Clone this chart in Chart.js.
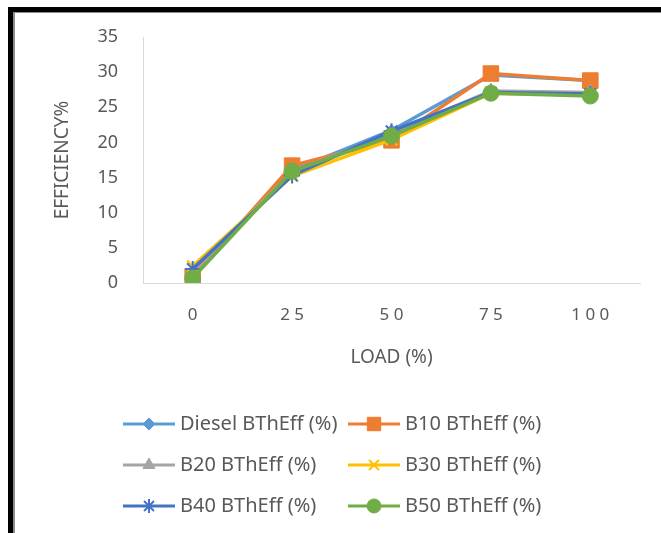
<!DOCTYPE html>
<html>
<head>
<meta charset="utf-8">
<script src="https://cdn.jsdelivr.net/npm/chart.js@4.4.1/dist/chart.umd.min.js"></script>
<style>
  html, body { margin: 0; padding: 0; background: #fff; }
  #wrap { position: relative; width: 661px; height: 533px; overflow: hidden; }
  #chart { position: absolute; left: 0; top: 0; }
  .frame { position: absolute; left: 8px; top: 7px; right: -10px; bottom: -10px;
           border-left: 5px solid #000; border-top: 5px solid #000; }
  .frame-inner { position: absolute; left: 13px; top: 12px; right: -10px; bottom: -10px;
           border-left: 2px solid #8c8c8c; border-top: 1px solid #8c8c8c; }
</style>
</head>
<body>
<div id="wrap">
  <canvas id="chart" width="661" height="533"></canvas>
  <div class="frame"></div>
  <div class="frame-inner"></div>
</div>
<script>
// Engine load steps (%) and brake thermal efficiency per fuel blend
const loads = ['0', '2 5', '5 0', '7 5', '1 0 0'];
const seriesNames = ['Diesel BThEff (%)', 'B10 BThEff (%)', 'B20 BThEff (%)',
                     'B30 BThEff (%)', 'B40 BThEff (%)', 'B50 BThEff (%)'];
const diesel = [1.5, 16.0, 21.7, 29.6, 28.8];
const b10    = [0.8, 16.7, 20.3, 29.8, 28.8];
const b20    = [1.6, 15.8, 21.3, 27.3, 27.1];
const b30    = [2.4, 15.2, 20.4, 27.0, 26.8];
const b40    = [2.0, 15.3, 21.6, 27.1, 26.9];
const b50    = [0.7, 15.9, 20.9, 27.0, 26.6];
const yTicks = [0, 5, 10, 15, 20, 25, 30, 35];

const FONT = "'Noto Sans', 'Open Sans', sans-serif";
const TEXT = '#595959';

// marker style per series: plot radius and legend radius
const styles = [
  { color: '#5b9bd5', point: 'rectRot',  radius: 6,  legendRadius: 6 },
  { color: '#ed7d31', point: 'rect',     radius: 11, legendRadius: 9.5 },
  { color: '#a5a5a5', point: 'triangle', radius: 8,  legendRadius: 7 },
  { color: '#ffc000', point: 'crossRot', radius: 8,  legendRadius: 7 },
  { color: '#4472c4', point: 'star',     radius: 8,  legendRadius: 7 },
  { color: '#70ad47', point: 'circle',   radius: 8,  legendRadius: 7 }
];
const values = [diesel, b10, b20, b30, b40, b50];

const datasets = values.map((v, i) => ({
  label: seriesNames[i],
  data: v,
  borderColor: styles[i].color,
  backgroundColor: styles[i].color,
  pointBackgroundColor: styles[i].color,
  pointBorderColor: styles[i].color,
  pointBorderWidth: (styles[i].point === 'crossRot' || styles[i].point === 'star') ? 2 : 1,
  pointStyle: styles[i].point,
  pointRadius: styles[i].radius,
  legendRadius: styles[i].legendRadius,
  borderWidth: 3.5,
  tension: 0,
  order: values.length - i
}));

// Two-column legend below the plot: a short line with the marker in its middle
const blockLegend = {
  id: 'blockLegend',
  afterDraw(chart) {
    const ctx = chart.ctx;
    const colX = [123, 348];
    const rowY = [424, 465, 506];
    const lineLen = 52;
    ctx.save();
    ctx.font = '20px ' + FONT;
    ctx.textBaseline = 'middle';
    ctx.textAlign = 'left';
    chart.data.datasets.forEach((ds, i) => {
      const x = colX[i % 2];
      const y = rowY[Math.floor(i / 2)];
      ctx.strokeStyle = ds.borderColor;
      ctx.lineWidth = 3;
      ctx.beginPath();
      ctx.moveTo(x, y);
      ctx.lineTo(x + lineLen, y);
      ctx.stroke();
      ctx.fillStyle = ds.pointBackgroundColor;
      ctx.strokeStyle = ds.pointBorderColor;
      ctx.lineWidth = ds.pointBorderWidth;
      Chart.helpers.drawPoint(ctx, {
        pointStyle: ds.pointStyle,
        radius: ds.legendRadius,
        rotation: 0,
        borderWidth: ds.pointBorderWidth
      }, x + lineLen / 2, y);
      ctx.fillStyle = TEXT;
      ctx.fillText(ds.label, x + lineLen + 5, y);
    });
    ctx.restore();
  }
};

new Chart(document.getElementById('chart'), {
  type: 'line',
  data: { labels: loads, datasets: datasets },
  options: {
    responsive: false,
    animation: false,
    layout: { padding: { left: 0, right: 21, top: 37, bottom: 160 } },
    plugins: { legend: { display: false }, tooltip: { enabled: false } },
    scales: {
      x: {
        offset: true,
        grid: { display: false, drawTicks: false },
        border: { display: true, color: '#d9d9d9', width: 1 },
        ticks: { color: TEXT, font: { family: FONT, size: 17 }, padding: 22, maxRotation: 0 },
        title: { display: true, text: 'LOAD (%)', color: TEXT,
                 font: { family: FONT, size: 19 }, padding: { top: 0, bottom: 4 } },
        afterFit(scale) { scale.height = 90; }
      },
      y: {
        min: 0, max: 35,
        afterBuildTicks(scale) { scale.ticks = yTicks.map(v => ({ value: v })); },
        grid: { display: false, drawTicks: false },
        border: { display: true, color: '#d9d9d9', width: 1 },
        ticks: { color: TEXT, font: { family: FONT, size: 18 }, padding: 25 },
        title: { display: true, text: 'EFFICIENCY%', color: TEXT,
                 font: { family: FONT, size: 19 }, padding: { top: 51, bottom: 0 } },
        afterFit(scale) { scale.width = 143; }
      }
    }
  },
  plugins: [blockLegend]
});
</script>
</body>
</html>
